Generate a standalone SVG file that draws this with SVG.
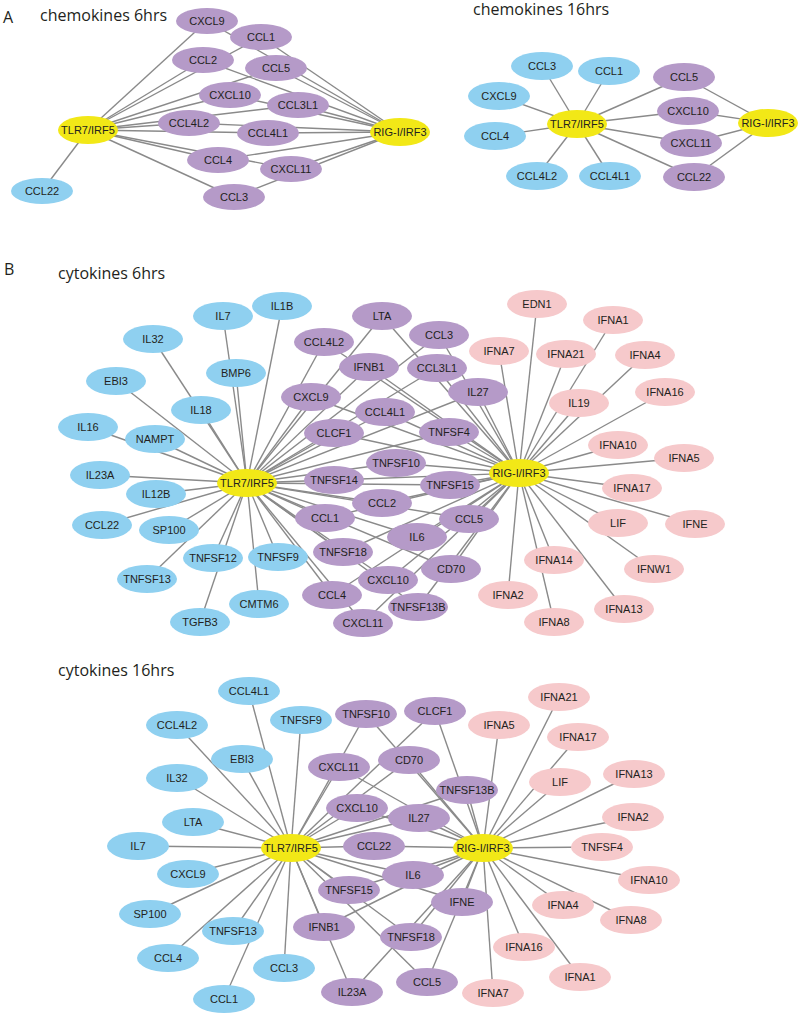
<svg xmlns="http://www.w3.org/2000/svg" width="800" height="1015" viewBox="0 0 800 1015">
<style>
.e line{stroke:#8a8a8a;stroke-width:1.4}
.b ellipse{fill:#8fd0f0}
.p ellipse{fill:#b59ac8}
.k ellipse{fill:#f6c9cb}
.y ellipse{fill:#f2e817}
.n text{font-family:"Liberation Sans",Arial,sans-serif;font-size:11px;text-anchor:middle;fill:#231f20}
.t{font-family:"Open Sans","Liberation Sans",sans-serif;font-size:16px;fill:#231f20}
</style>
<rect width="800" height="1015" fill="#ffffff"/>
<g id="titles">
<text class="t" x="3" y="23">A</text>
<text class="t" x="40" y="21">chemokines 6hrs</text>
<text class="t" x="473" y="15">chemokines 16hrs</text>
<text class="t" x="4" y="275">B</text>
<text class="t" x="58" y="279">cytokines 6hrs</text>
<text class="t" x="58" y="676">cytokines 16hrs</text>
</g>
<g id="connectors" class="e">
<!-- A 6hrs -->
<line x1="88" y1="130" x2="207" y2="21"/><line x1="400" y1="132" x2="207" y2="21"/>
<line x1="88" y1="130" x2="261" y2="37"/><line x1="400" y1="132" x2="261" y2="37"/>
<line x1="88" y1="130" x2="203" y2="60"/><line x1="400" y1="132" x2="203" y2="60"/>
<line x1="88" y1="130" x2="276" y2="68"/><line x1="400" y1="132" x2="276" y2="68"/>
<line x1="88" y1="130" x2="230" y2="95"/><line x1="400" y1="132" x2="230" y2="95"/>
<line x1="88" y1="130" x2="298" y2="105"/><line x1="400" y1="132" x2="298" y2="105"/>
<line x1="88" y1="130" x2="189" y2="123"/><line x1="400" y1="132" x2="189" y2="123"/>
<line x1="88" y1="130" x2="268" y2="133"/><line x1="400" y1="132" x2="268" y2="133"/>
<line x1="88" y1="130" x2="218" y2="160"/><line x1="400" y1="132" x2="218" y2="160"/>
<line x1="88" y1="130" x2="291" y2="169"/><line x1="400" y1="132" x2="291" y2="169"/>
<line x1="88" y1="130" x2="234" y2="197"/><line x1="400" y1="132" x2="234" y2="197"/>
<line x1="88" y1="130" x2="42" y2="191"/>
<!-- A 16hrs -->
<line x1="577" y1="124" x2="542" y2="66"/>
<line x1="577" y1="124" x2="609" y2="71"/>
<line x1="577" y1="124" x2="499" y2="96"/>
<line x1="577" y1="124" x2="495" y2="136"/>
<line x1="577" y1="124" x2="537" y2="176"/>
<line x1="577" y1="124" x2="610" y2="176"/>
<line x1="577" y1="124" x2="684" y2="77"/><line x1="768" y1="123" x2="684" y2="77"/>
<line x1="577" y1="124" x2="688" y2="111"/><line x1="768" y1="123" x2="688" y2="111"/>
<line x1="577" y1="124" x2="691" y2="143"/><line x1="768" y1="123" x2="691" y2="143"/>
<line x1="577" y1="124" x2="694" y2="177"/><line x1="768" y1="123" x2="694" y2="177"/>
<!-- B 6hrs blue -->
<line x1="247" y1="483" x2="223" y2="316"/>
<line x1="247" y1="483" x2="282" y2="306"/>
<line x1="247" y1="483" x2="153" y2="339"/>
<line x1="247" y1="483" x2="236" y2="373"/>
<line x1="247" y1="483" x2="116" y2="381"/>
<line x1="247" y1="483" x2="201" y2="410"/>
<line x1="247" y1="483" x2="88" y2="427"/>
<line x1="247" y1="483" x2="155" y2="439"/>
<line x1="247" y1="483" x2="100" y2="475"/>
<line x1="247" y1="483" x2="156" y2="494"/>
<line x1="247" y1="483" x2="102" y2="525"/>
<line x1="247" y1="483" x2="169" y2="530"/>
<line x1="247" y1="483" x2="213" y2="558"/>
<line x1="247" y1="483" x2="147" y2="579"/>
<line x1="247" y1="483" x2="278" y2="557"/>
<line x1="247" y1="483" x2="259" y2="604"/>
<line x1="247" y1="483" x2="200" y2="622"/>
<!-- B 6hrs purple -->
<line x1="247" y1="483" x2="382" y2="316"/><line x1="519" y1="473" x2="382" y2="316"/>
<line x1="247" y1="483" x2="439" y2="335"/><line x1="519" y1="473" x2="439" y2="335"/>
<line x1="247" y1="483" x2="324" y2="342"/><line x1="519" y1="473" x2="324" y2="342"/>
<line x1="247" y1="483" x2="369" y2="367"/><line x1="519" y1="473" x2="369" y2="367"/>
<line x1="247" y1="483" x2="437" y2="368"/><line x1="519" y1="473" x2="437" y2="368"/>
<line x1="247" y1="483" x2="478" y2="392"/><line x1="519" y1="473" x2="478" y2="392"/>
<line x1="247" y1="483" x2="311" y2="397"/><line x1="519" y1="473" x2="311" y2="397"/>
<line x1="247" y1="483" x2="385" y2="412"/><line x1="519" y1="473" x2="385" y2="412"/>
<line x1="247" y1="483" x2="334" y2="433"/><line x1="519" y1="473" x2="334" y2="433"/>
<line x1="247" y1="483" x2="449" y2="432"/><line x1="519" y1="473" x2="449" y2="432"/>
<line x1="247" y1="483" x2="396" y2="463"/><line x1="519" y1="473" x2="396" y2="463"/>
<line x1="247" y1="483" x2="334" y2="480"/><line x1="519" y1="473" x2="334" y2="480"/>
<line x1="247" y1="483" x2="450" y2="485"/><line x1="519" y1="473" x2="450" y2="485"/>
<line x1="247" y1="483" x2="382" y2="503"/><line x1="519" y1="473" x2="382" y2="503"/>
<line x1="247" y1="483" x2="325" y2="518"/><line x1="519" y1="473" x2="325" y2="518"/>
<line x1="247" y1="483" x2="469" y2="519"/><line x1="519" y1="473" x2="469" y2="519"/>
<line x1="247" y1="483" x2="417" y2="537"/><line x1="519" y1="473" x2="417" y2="537"/>
<line x1="247" y1="483" x2="343" y2="552"/><line x1="519" y1="473" x2="343" y2="552"/>
<line x1="247" y1="483" x2="451" y2="569"/><line x1="519" y1="473" x2="451" y2="569"/>
<line x1="247" y1="483" x2="388" y2="580"/><line x1="519" y1="473" x2="388" y2="580"/>
<line x1="247" y1="483" x2="332" y2="595"/><line x1="519" y1="473" x2="332" y2="595"/>
<line x1="247" y1="483" x2="418" y2="607"/><line x1="519" y1="473" x2="418" y2="607"/>
<line x1="247" y1="483" x2="363" y2="623"/><line x1="519" y1="473" x2="363" y2="623"/>
<!-- B 6hrs pink -->
<line x1="519" y1="473" x2="537" y2="304"/>
<line x1="519" y1="473" x2="613" y2="320"/>
<line x1="519" y1="473" x2="499" y2="351"/>
<line x1="519" y1="473" x2="566" y2="354"/>
<line x1="519" y1="473" x2="645" y2="355"/>
<line x1="519" y1="473" x2="579" y2="403"/>
<line x1="519" y1="473" x2="665" y2="392"/>
<line x1="519" y1="473" x2="618" y2="445"/>
<line x1="519" y1="473" x2="684" y2="458"/>
<line x1="519" y1="473" x2="632" y2="488"/>
<line x1="519" y1="473" x2="618" y2="523"/>
<line x1="519" y1="473" x2="695" y2="524"/>
<line x1="519" y1="473" x2="554" y2="560"/>
<line x1="519" y1="473" x2="654" y2="569"/>
<line x1="519" y1="473" x2="508" y2="595"/>
<line x1="519" y1="473" x2="624" y2="609"/>
<line x1="519" y1="473" x2="554" y2="622"/>
<!-- B 16hrs blue -->
<line x1="291" y1="848" x2="249" y2="691"/>
<line x1="291" y1="848" x2="301" y2="720"/>
<line x1="291" y1="848" x2="177" y2="725"/>
<line x1="291" y1="848" x2="242" y2="759"/>
<line x1="291" y1="848" x2="177" y2="778"/>
<line x1="291" y1="848" x2="193" y2="822"/>
<line x1="291" y1="848" x2="138" y2="846"/>
<line x1="291" y1="848" x2="188" y2="874"/>
<line x1="291" y1="848" x2="150" y2="914"/>
<line x1="291" y1="848" x2="233" y2="931"/>
<line x1="291" y1="848" x2="168" y2="958"/>
<line x1="291" y1="848" x2="224" y2="999"/>
<line x1="291" y1="848" x2="284" y2="968"/>
<!-- B 16hrs purple -->
<line x1="291" y1="848" x2="366" y2="714"/><line x1="483" y1="848" x2="366" y2="714"/>
<line x1="291" y1="848" x2="435" y2="711"/><line x1="483" y1="848" x2="435" y2="711"/>
<line x1="291" y1="848" x2="339" y2="767"/><line x1="483" y1="848" x2="339" y2="767"/>
<line x1="291" y1="848" x2="409" y2="760"/><line x1="483" y1="848" x2="409" y2="760"/>
<line x1="291" y1="848" x2="467" y2="790"/><line x1="483" y1="848" x2="467" y2="790"/>
<line x1="291" y1="848" x2="357" y2="808"/><line x1="483" y1="848" x2="357" y2="808"/>
<line x1="291" y1="848" x2="419" y2="818"/><line x1="483" y1="848" x2="419" y2="818"/>
<line x1="291" y1="848" x2="374" y2="846"/><line x1="483" y1="848" x2="374" y2="846"/>
<line x1="291" y1="848" x2="413" y2="875"/><line x1="483" y1="848" x2="413" y2="875"/>
<line x1="291" y1="848" x2="349" y2="890"/><line x1="483" y1="848" x2="349" y2="890"/>
<line x1="291" y1="848" x2="462" y2="902"/><line x1="483" y1="848" x2="462" y2="902"/>
<line x1="291" y1="848" x2="324" y2="927"/><line x1="483" y1="848" x2="324" y2="927"/>
<line x1="291" y1="848" x2="411" y2="937"/><line x1="483" y1="848" x2="411" y2="937"/>
<line x1="291" y1="848" x2="427" y2="982"/><line x1="483" y1="848" x2="427" y2="982"/>
<line x1="291" y1="848" x2="352" y2="992"/><line x1="483" y1="848" x2="352" y2="992"/>
<!-- B 16hrs pink -->
<line x1="483" y1="848" x2="559" y2="697"/>
<line x1="483" y1="848" x2="499" y2="725"/>
<line x1="483" y1="848" x2="578" y2="737"/>
<line x1="483" y1="848" x2="560" y2="782"/>
<line x1="483" y1="848" x2="634" y2="774"/>
<line x1="483" y1="848" x2="633" y2="817"/>
<line x1="483" y1="848" x2="602" y2="847"/>
<line x1="483" y1="848" x2="649" y2="880"/>
<line x1="483" y1="848" x2="563" y2="905"/>
<line x1="483" y1="848" x2="631" y2="920"/>
<line x1="483" y1="848" x2="524" y2="947"/>
<line x1="483" y1="848" x2="580" y2="977"/>
<line x1="483" y1="848" x2="493" y2="993"/>
</g>
<g id="nodes-a6" class="n">
<g id="a6-TLR7" class="y"><ellipse cx="88" cy="130" rx="30" ry="14"/><text x="88" y="134">TLR7/IRF5</text></g>
<g id="a6-RIGI" class="y"><ellipse cx="400" cy="132" rx="30" ry="14"/><text x="400" y="136">RIG-I/IRF3</text></g>
<g id="a6-CXCL9" class="p"><ellipse cx="207" cy="21" rx="31" ry="13"/><text x="207" y="25">CXCL9</text></g>
<g id="a6-CCL1" class="p"><ellipse cx="261" cy="37" rx="31" ry="13"/><text x="261" y="41">CCL1</text></g>
<g id="a6-CCL2" class="p"><ellipse cx="203" cy="60" rx="31" ry="13"/><text x="203" y="64">CCL2</text></g>
<g id="a6-CCL5" class="p"><ellipse cx="276" cy="68" rx="31" ry="13"/><text x="276" y="72">CCL5</text></g>
<g id="a6-CXCL10" class="p"><ellipse cx="230" cy="95" rx="31" ry="13"/><text x="230" y="99">CXCL10</text></g>
<g id="a6-CCL3L1" class="p"><ellipse cx="298" cy="105" rx="31" ry="13"/><text x="298" y="109">CCL3L1</text></g>
<g id="a6-CCL4L2" class="p"><ellipse cx="189" cy="123" rx="31" ry="13"/><text x="189" y="127">CCL4L2</text></g>
<g id="a6-CCL4L1" class="p"><ellipse cx="268" cy="133" rx="31" ry="13"/><text x="268" y="137">CCL4L1</text></g>
<g id="a6-CCL4" class="p"><ellipse cx="218" cy="160" rx="31" ry="13"/><text x="218" y="164">CCL4</text></g>
<g id="a6-CXCL11" class="p"><ellipse cx="291" cy="169" rx="31" ry="13"/><text x="291" y="173">CXCL11</text></g>
<g id="a6-CCL3" class="p"><ellipse cx="234" cy="197" rx="31" ry="13"/><text x="234" y="201">CCL3</text></g>
<g id="a6-CCL22" class="b"><ellipse cx="42" cy="191" rx="31" ry="13"/><text x="42" y="195">CCL22</text></g>
</g>
<g id="nodes-a16" class="n">
<g id="a16-TLR7" class="y"><ellipse cx="577" cy="124" rx="30" ry="14"/><text x="577" y="128">TLR7/IRF5</text></g>
<g id="a16-RIGI" class="y"><ellipse cx="768" cy="123" rx="30" ry="14"/><text x="768" y="127">RIG-I/IRF3</text></g>
<g id="a16-CCL3" class="b"><ellipse cx="542" cy="66" rx="31" ry="14"/><text x="542" y="70">CCL3</text></g>
<g id="a16-CCL1" class="b"><ellipse cx="609" cy="71" rx="31" ry="14"/><text x="609" y="75">CCL1</text></g>
<g id="a16-CXCL9" class="b"><ellipse cx="499" cy="96" rx="31" ry="14"/><text x="499" y="100">CXCL9</text></g>
<g id="a16-CCL4" class="b"><ellipse cx="495" cy="136" rx="31" ry="14"/><text x="495" y="140">CCL4</text></g>
<g id="a16-CCL4L2" class="b"><ellipse cx="537" cy="176" rx="31" ry="14"/><text x="537" y="180">CCL4L2</text></g>
<g id="a16-CCL4L1" class="b"><ellipse cx="610" cy="176" rx="31" ry="14"/><text x="610" y="180">CCL4L1</text></g>
<g id="a16-CCL5" class="p"><ellipse cx="684" cy="77" rx="31" ry="14"/><text x="684" y="81">CCL5</text></g>
<g id="a16-CXCL10" class="p"><ellipse cx="688" cy="111" rx="31" ry="14"/><text x="688" y="115">CXCL10</text></g>
<g id="a16-CXCL11" class="p"><ellipse cx="691" cy="143" rx="31" ry="14"/><text x="691" y="147">CXCL11</text></g>
<g id="a16-CCL22" class="p"><ellipse cx="694" cy="177" rx="31" ry="14"/><text x="694" y="181">CCL22</text></g>
</g>
<g id="nodes-b6" class="n">
<g id="b6-IL7" class="b"><ellipse cx="223" cy="316" rx="30" ry="14"/><text x="223" y="320">IL7</text></g>
<g id="b6-IL1B" class="b"><ellipse cx="282" cy="306" rx="30" ry="14"/><text x="282" y="310">IL1B</text></g>
<g id="b6-IL32" class="b"><ellipse cx="153" cy="339" rx="30" ry="14"/><text x="153" y="343">IL32</text></g>
<g id="b6-BMP6" class="b"><ellipse cx="236" cy="373" rx="30" ry="14"/><text x="236" y="377">BMP6</text></g>
<g id="b6-EBI3" class="b"><ellipse cx="116" cy="381" rx="30" ry="14"/><text x="116" y="385">EBI3</text></g>
<g id="b6-IL18" class="b"><ellipse cx="201" cy="410" rx="30" ry="14"/><text x="201" y="414">IL18</text></g>
<g id="b6-IL16" class="b"><ellipse cx="88" cy="427" rx="30" ry="14"/><text x="88" y="431">IL16</text></g>
<g id="b6-NAMPT" class="b"><ellipse cx="155" cy="439" rx="30" ry="14"/><text x="155" y="443">NAMPT</text></g>
<g id="b6-IL23A" class="b"><ellipse cx="100" cy="475" rx="30" ry="14"/><text x="100" y="479">IL23A</text></g>
<g id="b6-IL12B" class="b"><ellipse cx="156" cy="494" rx="30" ry="14"/><text x="156" y="498">IL12B</text></g>
<g id="b6-CCL22" class="b"><ellipse cx="102" cy="525" rx="30" ry="14"/><text x="102" y="529">CCL22</text></g>
<g id="b6-SP100" class="b"><ellipse cx="169" cy="530" rx="30" ry="14"/><text x="169" y="534">SP100</text></g>
<g id="b6-TNFSF12" class="b"><ellipse cx="213" cy="558" rx="30" ry="14"/><text x="213" y="562">TNFSF12</text></g>
<g id="b6-TNFSF13" class="b"><ellipse cx="147" cy="579" rx="30" ry="14"/><text x="147" y="583">TNFSF13</text></g>
<g id="b6-TNFSF9" class="b"><ellipse cx="278" cy="557" rx="30" ry="14"/><text x="278" y="561">TNFSF9</text></g>
<g id="b6-CMTM6" class="b"><ellipse cx="259" cy="604" rx="30" ry="14"/><text x="259" y="608">CMTM6</text></g>
<g id="b6-TGFB3" class="b"><ellipse cx="200" cy="622" rx="30" ry="14"/><text x="200" y="626">TGFB3</text></g>
<g id="b6-LTA" class="p"><ellipse cx="382" cy="316" rx="30" ry="14"/><text x="382" y="320">LTA</text></g>
<g id="b6-CCL3" class="p"><ellipse cx="439" cy="335" rx="30" ry="14"/><text x="439" y="339">CCL3</text></g>
<g id="b6-CCL4L2" class="p"><ellipse cx="324" cy="342" rx="30" ry="14"/><text x="324" y="346">CCL4L2</text></g>
<g id="b6-IFNB1" class="p"><ellipse cx="369" cy="367" rx="30" ry="14"/><text x="369" y="371">IFNB1</text></g>
<g id="b6-CCL3L1" class="p"><ellipse cx="437" cy="368" rx="30" ry="14"/><text x="437" y="372">CCL3L1</text></g>
<g id="b6-IL27" class="p"><ellipse cx="478" cy="392" rx="30" ry="14"/><text x="478" y="396">IL27</text></g>
<g id="b6-CXCL9" class="p"><ellipse cx="311" cy="397" rx="30" ry="14"/><text x="311" y="401">CXCL9</text></g>
<g id="b6-CCL4L1" class="p"><ellipse cx="385" cy="412" rx="30" ry="14"/><text x="385" y="416">CCL4L1</text></g>
<g id="b6-CLCF1" class="p"><ellipse cx="334" cy="433" rx="30" ry="14"/><text x="334" y="437">CLCF1</text></g>
<g id="b6-TNFSF4" class="p"><ellipse cx="449" cy="432" rx="30" ry="14"/><text x="449" y="436">TNFSF4</text></g>
<g id="b6-TNFSF10" class="p"><ellipse cx="396" cy="463" rx="30" ry="14"/><text x="396" y="467">TNFSF10</text></g>
<g id="b6-TNFSF14" class="p"><ellipse cx="334" cy="480" rx="30" ry="14"/><text x="334" y="484">TNFSF14</text></g>
<g id="b6-TNFSF15" class="p"><ellipse cx="450" cy="485" rx="30" ry="14"/><text x="450" y="489">TNFSF15</text></g>
<g id="b6-CCL2" class="p"><ellipse cx="382" cy="503" rx="30" ry="14"/><text x="382" y="507">CCL2</text></g>
<g id="b6-CCL1" class="p"><ellipse cx="325" cy="518" rx="30" ry="14"/><text x="325" y="522">CCL1</text></g>
<g id="b6-CCL5" class="p"><ellipse cx="469" cy="519" rx="30" ry="14"/><text x="469" y="523">CCL5</text></g>
<g id="b6-IL6" class="p"><ellipse cx="417" cy="537" rx="30" ry="14"/><text x="417" y="541">IL6</text></g>
<g id="b6-TNFSF18" class="p"><ellipse cx="343" cy="552" rx="30" ry="14"/><text x="343" y="556">TNFSF18</text></g>
<g id="b6-CD70" class="p"><ellipse cx="451" cy="569" rx="30" ry="14"/><text x="451" y="573">CD70</text></g>
<g id="b6-CXCL10" class="p"><ellipse cx="388" cy="580" rx="30" ry="14"/><text x="388" y="584">CXCL10</text></g>
<g id="b6-CCL4" class="p"><ellipse cx="332" cy="595" rx="30" ry="14"/><text x="332" y="599">CCL4</text></g>
<g id="b6-TNFSF13B" class="p"><ellipse cx="418" cy="607" rx="30" ry="14"/><text x="418" y="611">TNFSF13B</text></g>
<g id="b6-CXCL11" class="p"><ellipse cx="363" cy="623" rx="30" ry="14"/><text x="363" y="627">CXCL11</text></g>
<g id="b6-EDN1" class="k"><ellipse cx="537" cy="304" rx="30" ry="14"/><text x="537" y="308">EDN1</text></g>
<g id="b6-IFNA1" class="k"><ellipse cx="613" cy="320" rx="30" ry="14"/><text x="613" y="324">IFNA1</text></g>
<g id="b6-IFNA7" class="k"><ellipse cx="499" cy="351" rx="30" ry="14"/><text x="499" y="355">IFNA7</text></g>
<g id="b6-IFNA21" class="k"><ellipse cx="566" cy="354" rx="30" ry="14"/><text x="566" y="358">IFNA21</text></g>
<g id="b6-IFNA4" class="k"><ellipse cx="645" cy="355" rx="30" ry="14"/><text x="645" y="359">IFNA4</text></g>
<g id="b6-IL19" class="k"><ellipse cx="579" cy="403" rx="30" ry="14"/><text x="579" y="407">IL19</text></g>
<g id="b6-IFNA16" class="k"><ellipse cx="665" cy="392" rx="30" ry="14"/><text x="665" y="396">IFNA16</text></g>
<g id="b6-IFNA10" class="k"><ellipse cx="618" cy="445" rx="30" ry="14"/><text x="618" y="449">IFNA10</text></g>
<g id="b6-IFNA5" class="k"><ellipse cx="684" cy="458" rx="30" ry="14"/><text x="684" y="462">IFNA5</text></g>
<g id="b6-IFNA17" class="k"><ellipse cx="632" cy="488" rx="30" ry="14"/><text x="632" y="492">IFNA17</text></g>
<g id="b6-LIF" class="k"><ellipse cx="618" cy="523" rx="30" ry="14"/><text x="618" y="527">LIF</text></g>
<g id="b6-IFNE" class="k"><ellipse cx="695" cy="524" rx="30" ry="14"/><text x="695" y="528">IFNE</text></g>
<g id="b6-IFNA14" class="k"><ellipse cx="554" cy="560" rx="30" ry="14"/><text x="554" y="564">IFNA14</text></g>
<g id="b6-IFNW1" class="k"><ellipse cx="654" cy="569" rx="30" ry="14"/><text x="654" y="573">IFNW1</text></g>
<g id="b6-IFNA2" class="k"><ellipse cx="508" cy="595" rx="30" ry="14"/><text x="508" y="599">IFNA2</text></g>
<g id="b6-IFNA13" class="k"><ellipse cx="624" cy="609" rx="30" ry="14"/><text x="624" y="613">IFNA13</text></g>
<g id="b6-IFNA8" class="k"><ellipse cx="554" cy="622" rx="30" ry="14"/><text x="554" y="626">IFNA8</text></g>
<g id="b6-TLR7" class="y"><ellipse cx="247" cy="483" rx="30" ry="14"/><text x="247" y="487">TLR7/IRF5</text></g>
<g id="b6-RIGI" class="y"><ellipse cx="519" cy="473" rx="30" ry="14"/><text x="519" y="477">RIG-I/IRF3</text></g>
</g>
<g id="nodes-b16" class="n">
<g id="b16-CCL4L1" class="b"><ellipse cx="249" cy="691" rx="31" ry="14"/><text x="249" y="695">CCL4L1</text></g>
<g id="b16-TNFSF9" class="b"><ellipse cx="301" cy="720" rx="31" ry="14"/><text x="301" y="724">TNFSF9</text></g>
<g id="b16-CCL4L2" class="b"><ellipse cx="177" cy="725" rx="31" ry="14"/><text x="177" y="729">CCL4L2</text></g>
<g id="b16-EBI3" class="b"><ellipse cx="242" cy="759" rx="31" ry="14"/><text x="242" y="763">EBI3</text></g>
<g id="b16-IL32" class="b"><ellipse cx="177" cy="778" rx="31" ry="14"/><text x="177" y="782">IL32</text></g>
<g id="b16-LTA" class="b"><ellipse cx="193" cy="822" rx="31" ry="14"/><text x="193" y="826">LTA</text></g>
<g id="b16-IL7" class="b"><ellipse cx="138" cy="846" rx="31" ry="14"/><text x="138" y="850">IL7</text></g>
<g id="b16-CXCL9" class="b"><ellipse cx="188" cy="874" rx="31" ry="14"/><text x="188" y="878">CXCL9</text></g>
<g id="b16-SP100" class="b"><ellipse cx="150" cy="914" rx="31" ry="14"/><text x="150" y="918">SP100</text></g>
<g id="b16-TNFSF13" class="b"><ellipse cx="233" cy="931" rx="31" ry="14"/><text x="233" y="935">TNFSF13</text></g>
<g id="b16-CCL4" class="b"><ellipse cx="168" cy="958" rx="31" ry="14"/><text x="168" y="962">CCL4</text></g>
<g id="b16-CCL1" class="b"><ellipse cx="224" cy="999" rx="31" ry="14"/><text x="224" y="1003">CCL1</text></g>
<g id="b16-CCL3" class="b"><ellipse cx="284" cy="968" rx="31" ry="14"/><text x="284" y="972">CCL3</text></g>
<g id="b16-TNFSF10" class="p"><ellipse cx="366" cy="714" rx="31" ry="14"/><text x="366" y="718">TNFSF10</text></g>
<g id="b16-CLCF1" class="p"><ellipse cx="435" cy="711" rx="31" ry="14"/><text x="435" y="715">CLCF1</text></g>
<g id="b16-CXCL11" class="p"><ellipse cx="339" cy="767" rx="31" ry="14"/><text x="339" y="771">CXCL11</text></g>
<g id="b16-CD70" class="p"><ellipse cx="409" cy="760" rx="31" ry="14"/><text x="409" y="764">CD70</text></g>
<g id="b16-TNFSF13B" class="p"><ellipse cx="467" cy="790" rx="31" ry="14"/><text x="467" y="794">TNFSF13B</text></g>
<g id="b16-CXCL10" class="p"><ellipse cx="357" cy="808" rx="31" ry="14"/><text x="357" y="812">CXCL10</text></g>
<g id="b16-IL27" class="p"><ellipse cx="419" cy="818" rx="31" ry="14"/><text x="419" y="822">IL27</text></g>
<g id="b16-CCL22" class="p"><ellipse cx="374" cy="846" rx="31" ry="14"/><text x="374" y="850">CCL22</text></g>
<g id="b16-IL6" class="p"><ellipse cx="413" cy="875" rx="31" ry="14"/><text x="413" y="879">IL6</text></g>
<g id="b16-TNFSF15" class="p"><ellipse cx="349" cy="890" rx="31" ry="14"/><text x="349" y="894">TNFSF15</text></g>
<g id="b16-IFNE" class="p"><ellipse cx="462" cy="902" rx="31" ry="14"/><text x="462" y="906">IFNE</text></g>
<g id="b16-IFNB1" class="p"><ellipse cx="324" cy="927" rx="31" ry="14"/><text x="324" y="931">IFNB1</text></g>
<g id="b16-TNFSF18" class="p"><ellipse cx="411" cy="937" rx="31" ry="14"/><text x="411" y="941">TNFSF18</text></g>
<g id="b16-CCL5" class="p"><ellipse cx="427" cy="982" rx="31" ry="14"/><text x="427" y="986">CCL5</text></g>
<g id="b16-IL23A" class="p"><ellipse cx="352" cy="992" rx="31" ry="14"/><text x="352" y="996">IL23A</text></g>
<g id="b16-IFNA21" class="k"><ellipse cx="559" cy="697" rx="31" ry="14"/><text x="559" y="701">IFNA21</text></g>
<g id="b16-IFNA5" class="k"><ellipse cx="499" cy="725" rx="31" ry="14"/><text x="499" y="729">IFNA5</text></g>
<g id="b16-IFNA17" class="k"><ellipse cx="578" cy="737" rx="31" ry="14"/><text x="578" y="741">IFNA17</text></g>
<g id="b16-LIF" class="k"><ellipse cx="560" cy="782" rx="31" ry="14"/><text x="560" y="786">LIF</text></g>
<g id="b16-IFNA13" class="k"><ellipse cx="634" cy="774" rx="31" ry="14"/><text x="634" y="778">IFNA13</text></g>
<g id="b16-IFNA2" class="k"><ellipse cx="633" cy="817" rx="31" ry="14"/><text x="633" y="821">IFNA2</text></g>
<g id="b16-TNFSF4" class="k"><ellipse cx="602" cy="847" rx="31" ry="14"/><text x="602" y="851">TNFSF4</text></g>
<g id="b16-IFNA10" class="k"><ellipse cx="649" cy="880" rx="31" ry="14"/><text x="649" y="884">IFNA10</text></g>
<g id="b16-IFNA4" class="k"><ellipse cx="563" cy="905" rx="31" ry="14"/><text x="563" y="909">IFNA4</text></g>
<g id="b16-IFNA8" class="k"><ellipse cx="631" cy="920" rx="31" ry="14"/><text x="631" y="924">IFNA8</text></g>
<g id="b16-IFNA16" class="k"><ellipse cx="524" cy="947" rx="31" ry="14"/><text x="524" y="951">IFNA16</text></g>
<g id="b16-IFNA1" class="k"><ellipse cx="580" cy="977" rx="31" ry="14"/><text x="580" y="981">IFNA1</text></g>
<g id="b16-IFNA7" class="k"><ellipse cx="493" cy="993" rx="31" ry="14"/><text x="493" y="997">IFNA7</text></g>
<g id="b16-TLR7" class="y"><ellipse cx="291" cy="848" rx="30" ry="14"/><text x="291" y="852">TLR7/IRF5</text></g>
<g id="b16-RIGI" class="y"><ellipse cx="483" cy="848" rx="30" ry="14"/><text x="483" y="852">RIG-I/IRF3</text></g>
</g>
</svg>
